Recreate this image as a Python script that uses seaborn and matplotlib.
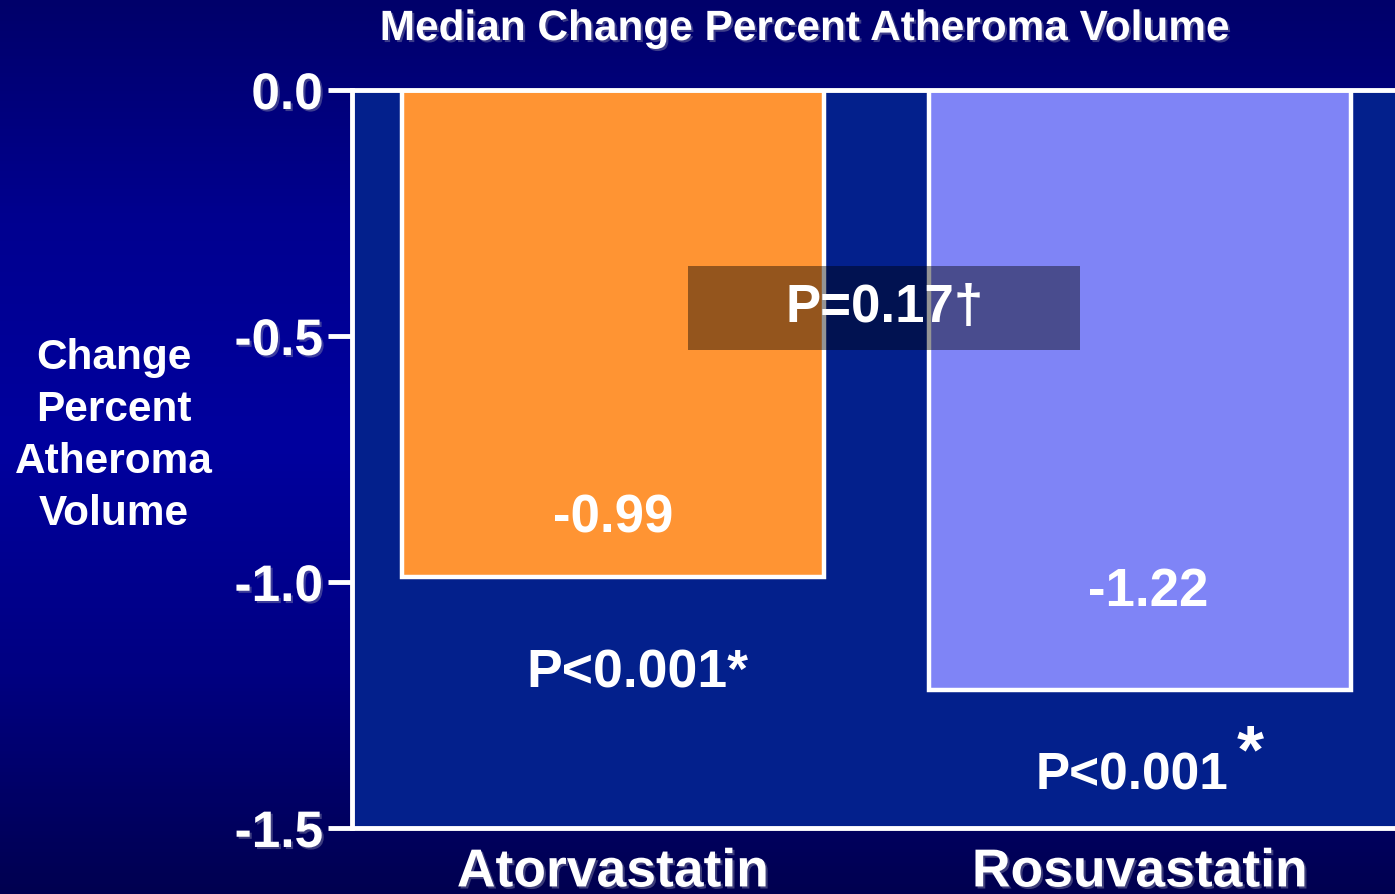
import numpy as np
import pandas as pd
import matplotlib
matplotlib.use("Agg")
import matplotlib.pyplot as plt
import matplotlib.patheffects as pe
from matplotlib.colors import LinearSegmentedColormap
from matplotlib.patches import Rectangle
import seaborn as sns

# Data
drugs = ["Atorvastatin", "Rosuvastatin"]
median_change = [-0.99, -1.22]
value_labels = ["-0.99", "-1.22"]
p_within = ["P<0.001", "P<0.001"]
p_between = "P=0.17\u2020"
y_ticks = [0.0, -0.5, -1.0, -1.5]
y_tick_labels = ["0.0", "-0.5", "-1.0", "-1.5"]
bar_colors = ["#FF9433", "#7F84F6"]

sns.set_theme(style="white")
plt.rcParams["font.family"] = ["Liberation Sans", "DejaVu Sans"]
plt.rcParams["font.weight"] = "bold"

W, H, DPI = 1395, 894, 100
fig = plt.figure(figsize=(W / DPI, H / DPI), dpi=DPI)

# Slide-style vertical gradient behind everything
bg = fig.add_axes([0, 0, 1, 1], zorder=-10)
grad_cmap = LinearSegmentedColormap.from_list(
    "slide", [(0.0, "#00006A"), (0.25, "#000090"), (0.5, "#00009E"),
              (0.75, "#000082"), (1.0, "#000050")])
bg.imshow(np.linspace(0, 1, 256).reshape(-1, 1), aspect="auto", cmap=grad_cmap,
          extent=[0, 1, 0, 1], origin="upper")
bg.set_axis_off()

# Plot area in pixel coordinates
left, right, top, bottom = 352, 1395, 90, 828
ax = fig.add_axes([left / W, 1 - bottom / H, (right - left) / W, (bottom - top) / H])
ax.set_facecolor("#03208C")

df = pd.DataFrame({"drug": drugs, "change": median_change})
sns.barplot(data=df, x="drug", y="change", hue="drug", palette=bar_colors,
            legend=False, width=0.80, edgecolor="white", linewidth=3.2,
            saturation=1, ax=ax, zorder=2)

ax.set_xlim(-0.495, 1.484)
ax.set_ylim(-1.5, 0.0)
ax.set_yticks(y_ticks)
ax.set_yticklabels(y_tick_labels)
ax.set_xlabel("")
ax.set_ylabel("")

shadow = [pe.withSimplePatchShadow(offset=(1.5, -1.5), shadow_rgbFace="#8888AA", alpha=0.45)]
ax.tick_params(axis="y", which="major", left=True, length=17, width=3.5,
               color="white", labelcolor="white", labelsize=37, pad=4)
ax.tick_params(axis="x", which="major", bottom=False, labelcolor="white",
               labelsize=38.5, pad=8)
for lab in ax.get_yticklabels() + ax.get_xticklabels():
    lab.set_fontweight("bold")
    lab.set_path_effects(shadow)

for side in ["left", "top", "bottom"]:
    ax.spines[side].set_visible(True)
    ax.spines[side].set_color("white")
    ax.spines[side].set_linewidth(3.5)
ax.spines["right"].set_visible(False)
for sp in ax.spines.values():
    sp.set_zorder(5)

# Value labels inside bars
ax.text(0, -0.87, value_labels[0], color="white", fontsize=38, fontweight="bold",
        ha="center", va="center", zorder=6)
ax.text(1.015, -1.02, value_labels[1], color="white", fontsize=38, fontweight="bold",
        ha="center", va="center", zorder=6)

# Within-group p-values
ax.text(0.047, -1.185, p_within[0] + "*", color="white", fontsize=38.5, fontweight="bold",
        ha="center", va="center", zorder=6)
ax.text(0.985, -1.394, p_within[1], color="white", fontsize=37, fontweight="bold",
        ha="center", va="center", zorder=6)
ax.text(1.21, -1.35, "*", color="white", fontsize=50, fontweight="bold",
        ha="center", va="center", zorder=6)

# Between-group comparison box
ax.add_patch(Rectangle((0.143, -0.528), 0.744, 0.17, facecolor="black", alpha=0.42,
                       edgecolor="none", zorder=4))
ax.text(0.515, -0.443, p_between, color="white", fontsize=38, fontweight="bold",
        ha="center", va="center", zorder=6)

# Title and y-axis caption
fig.text(805 / W, 1 - 29 / H, "Median Change Percent Atheroma Volume", color="white",
         fontsize=30.5, fontweight="bold", ha="center", va="center", path_effects=shadow)
fig.text(114 / W, 1 - 436 / H, "Change\nPercent\nAtheroma\nVolume", color="white",
         fontsize=30.5, fontweight="bold", ha="center", va="center", linespacing=1.38)

fig.savefig("out.png", dpi=DPI)
